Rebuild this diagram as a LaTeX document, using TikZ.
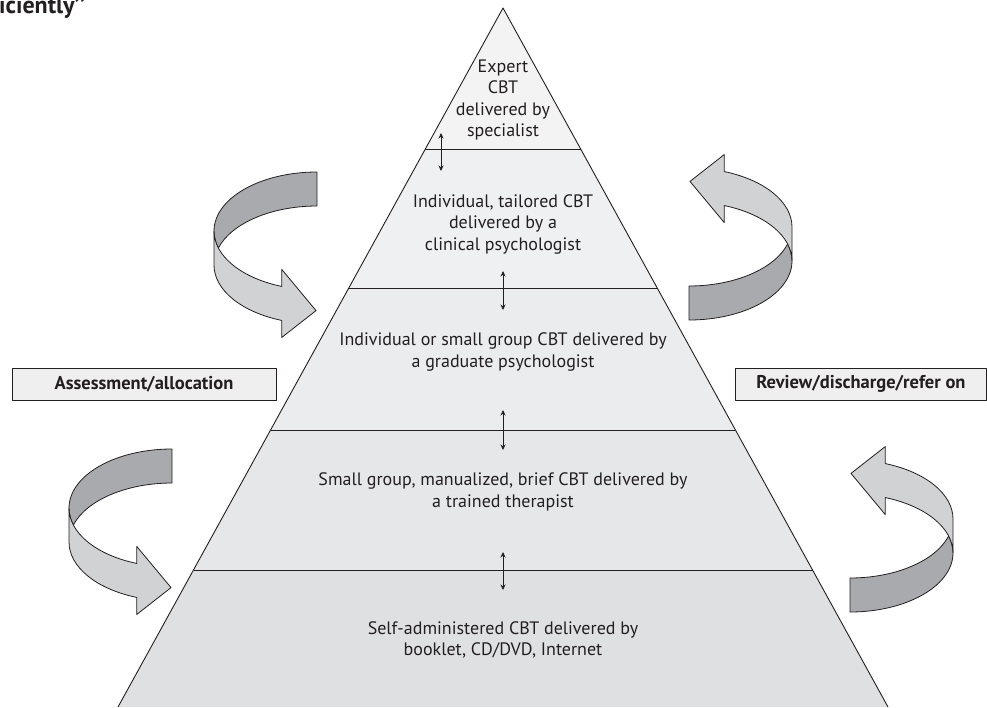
\documentclass[tikz,border=0pt]{standalone}
\usepackage{fontspec}
\setmainfont{PT Sans}
\usetikzlibrary{arrows.meta}
\definecolor{edge}{HTML}{231F20}
\definecolor{ribdark}{HTML}{A9AAAD}
\definecolor{riblight}{HTML}{D1D2D4}
\definecolor{bandA}{HTML}{F3F3F4}
\definecolor{bandB}{HTML}{EFF0F1}
\definecolor{bandC}{HTML}{EBECED}
\definecolor{bandD}{HTML}{E6E7E8}
\definecolor{bandE}{HTML}{DFE0E2}
\definecolor{boxfill}{HTML}{EFEFF0}
\tikzset{
  ribbon/.pic={
    \filldraw[fill=ribdark, draw=edge, line width=0.8pt]
      (0,59) arc[start angle=90, end angle=196.75, x radius=103, y radius=59]
      arc[start angle=163.25, end angle=90, x radius=103, y radius=59] -- cycle;
    \filldraw[fill=riblight, draw=edge, line width=0.8pt]
      (-103,0) arc[start angle=180, end angle=250, x radius=103, y radius=59]
      -- (-35.23,-38.44) -- (-0.96,-79.58) -- (-35.23,-106.44) -- (-35.23,-89.44)
      arc[start angle=250, end angle=180, x radius=103, y radius=59] -- cycle;
  },
  tiertext/.style={align=center, font=\fontsize{18}{21.5}\selectfont, text=edge, inner sep=0pt},
  labelbox/.style={draw=edge, fill=boxfill, line width=0.9pt, minimum height=32pt,
    font=\bfseries\fontsize{18.5}{20}\selectfont, text=edge, inner sep=0pt},
  tierline/.style={draw=edge, line width=0.9pt},
  updown/.style={draw=edge, line width=0.7pt, {Stealth[length=5.5pt,width=5pt]}-{Stealth[length=5.5pt,width=5pt]}}
}
\begin{document}
\begin{tikzpicture}[x=1pt, y=1pt, line join=round]
\useasboundingbox (0,0) rectangle (987,-707);
% pyramid corners
\coordinate (apex) at (503,-8);
\coordinate (L1) at (425.3,-149); \coordinate (R1) at (580.7,-149);
\coordinate (L2) at (348.8,-288); \coordinate (R2) at (657.2,-288);
\coordinate (L3) at (270.6,-430); \coordinate (R3) at (735.4,-430);
\coordinate (L4) at (193.5,-570); \coordinate (R4) at (812.5,-570);
\coordinate (L5) at (118,-707);   \coordinate (R5) at (888,-707);
\fill[bandA] (apex) -- (R1) -- (L1) -- cycle;
\fill[bandB] (L1) -- (R1) -- (R2) -- (L2) -- cycle;
\fill[bandC] (L2) -- (R2) -- (R3) -- (L3) -- cycle;
\fill[bandD] (L3) -- (R3) -- (R4) -- (L4) -- cycle;
\fill[bandE] (L4) -- (R4) -- (R5) -- (L5) -- cycle;
\draw[tierline] (L5) -- (apex) -- (R5);
\draw[tierline] (L1) -- (R1);
\draw[tierline] (L2) -- (R2);
\draw[tierline] (L3) -- (R3);
\draw[tierline] (L4) -- (R4);
% tier texts
\node[tiertext] (t1) at (503,-100) {Expert\\CBT\\delivered by\\specialist};
\node[tiertext] (t2) at (503,-224) {Individual, tailored CBT\\delivered by a\\clinical psychologist};
\node[tiertext] (t3) at (503,-352) {Individual or small group CBT delivered by\\a graduate psychologist};
\node[tiertext] (t4) at (503,-492) {Small group, manualized, brief CBT delivered by\\a trained therapist};
\node[tiertext] (t5) at (503,-640) {Self-administered CBT delivered by\\booklet, CD/DVD, Internet};
% double arrows
\coordinate (d1a) at (441,-133); \coordinate (d1b) at (441,-171);
\coordinate (d2a) at (503,-271); \coordinate (d2b) at (503,-310);
\coordinate (d3a) at (503,-410); \coordinate (d3b) at (503,-450);
\coordinate (d4a) at (503,-552); \coordinate (d4b) at (503,-590);
\draw[updown] (d1a) -- (d1b);
\draw[updown] (d2a) -- (d2b);
\draw[updown] (d3a) -- (d3b);
\draw[updown] (d4a) -- (d4b);
% side boxes
\node[labelbox, minimum width=264pt] (assess) at (144,-384) {Assessment/allocation};
\node[labelbox, minimum width=251pt] (review) at (861,-384) {Review/discharge/refer on};
% ribbon arrows
\pic at (317,-231) {ribbon};
\pic at (172,-508) {ribbon};
\pic[rotate=180] at (689,-261) {ribbon};
\pic[rotate=180] at (850,-553) {ribbon};
% caption fragment
\node[anchor=base west, inner sep=0pt, font=\bfseries\fontsize{24}{26}\selectfont, text=edge] (cap) at (-1,-13) {iciently’’};
\end{tikzpicture}
\end{document}
